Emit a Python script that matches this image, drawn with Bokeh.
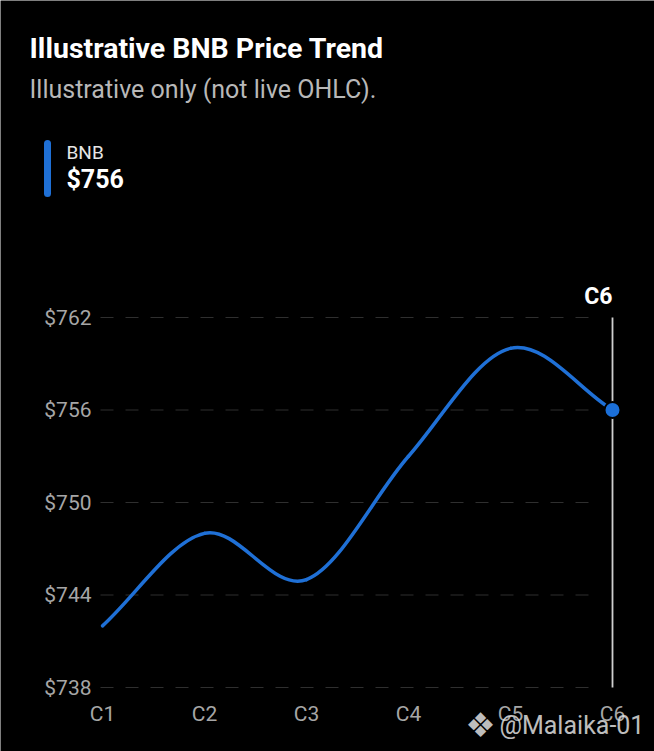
import numpy as np
from bokeh.plotting import figure
from bokeh.models import Range1d
from bokeh.core.properties import value
from bokeh.embed import file_html
from bokeh.resources import INLINE

# ---- data ----
CATEGORIES = ["C1", "C2", "C3", "C4", "C5", "C6"]
PRICES = [742, 748, 745, 753, 760, 756]
Y_TICKS = [738, 744, 750, 756, 762]
Y_TICK_LABELS = ["$738", "$744", "$750", "$756", "$762"]
TITLE = "Illustrative BNB Price Trend"
SUBTITLE = "Illustrative only (not live OHLC)."
SERIES_NAME = "BNB"
LATEST_LABEL = "$756"
WATERMARK = "@Malaika-01"

# ---- layout (pixels) ----
W, H = 654, 751
PX_PER_CAT = 102.0          # horizontal pixels per category step
PX_PER_USD = 370.0 / 24.0   # vertical pixels per dollar
TOP_TICK_PX = 317.0         # pixel row of the top tick

x_end = W / PX_PER_CAT
y_top = Y_TICKS[-1] + TOP_TICK_PX / PX_PER_USD
y_bottom = y_top - H / PX_PER_USD


def px_x(px):
    return px / PX_PER_CAT


def px_y(py):
    return y_top - py / PX_PER_USD


FONT = value("Roboto")

xs = np.arange(1, len(PRICES) + 1, dtype=float)
ys = np.array(PRICES, dtype=float)

# smooth curve: cubic Hermite (Catmull-Rom style) segments as Bezier curves
m = np.empty_like(ys)
m[1:-1] = (ys[2:] - ys[:-2]) / 2.0
m[0] = ys[1] - ys[0]
m[-1] = ys[-1] - ys[-2]
bx0, bx1 = xs[:-1], xs[1:]
by0, by1 = ys[:-1], ys[1:]
cx0, cy0 = bx0 + 1 / 3, by0 + m[:-1] / 3
cx1, cy1 = bx1 - 1 / 3, by1 - m[1:] / 3

p = figure(width=W, height=H, output_backend="svg", toolbar_location=None,
           x_range=Range1d(0, x_end), y_range=Range1d(y_bottom, y_top),
           x_axis_location=None, y_axis_location=None,
           min_border=0, outline_line_color=None)
p.background_fill_color = "black"
p.border_fill_color = "black"
p.outline_line_alpha = 0
p.outline_line_width = 0
p.grid.visible = False

# dashed horizontal gridlines at the y ticks
p.segment(x0=px_x(100), y0=Y_TICKS, x1=px_x(600), y1=Y_TICKS,
          line_color="#2f2f2f", line_width=1, line_dash="13 12")

# y tick labels
p.text(x=[px_x(91)] * len(Y_TICKS), y=Y_TICKS, text=Y_TICK_LABELS,
       text_font=FONT, text_font_size="21px", text_color="#a6a6a6",
       text_align="right", text_baseline="middle")
# x tick labels
p.text(x=xs, y=[px_y(713.5)] * len(xs), text=CATEGORIES,
       text_font=FONT, text_font_size="21px", text_color="#a6a6a6",
       text_align="center", text_baseline="middle")

# crosshair at latest point
p.segment(x0=[xs[-1]], y0=[Y_TICKS[0]], x1=[xs[-1]], y1=[Y_TICKS[-1]],
          line_color="#cfcfcf", line_width=1.8)
p.text(x=[xs[-1]], y=[Y_TICKS[-1]], text=[CATEGORIES[-1]], y_offset=-21,
       text_font=FONT, text_font_style="bold", text_font_size="23px",
       text_color="white", text_align="right", text_baseline="middle")

# the curve
p.bezier(x0=bx0, y0=by0, x1=bx1, y1=by1, cx0=cx0, cy0=cy0, cx1=cx1, cy1=cy1,
         line_color="#1f70d6", line_width=3.5, line_cap="round")
p.scatter(x=[xs[-1]], y=[ys[-1]], size=16, fill_color="#1b6fd8",
          line_color="black", line_width=2)

# header
p.text(x=[px_x(29)], y=[px_y(47.5)], text=[TITLE], text_font=FONT,
       text_font_style="bold", text_font_size="28.5px", text_color="white",
       text_baseline="middle")
p.text(x=[px_x(29)], y=[px_y(89)], text=[SUBTITLE], text_font=FONT,
       text_font_size="25px", text_color="#b8b8b8", text_baseline="middle")

# legend
p.segment(x0=[px_x(47)], y0=[px_y(143)], x1=[px_x(47)], y1=[px_y(193)],
          line_color="#1f70d6", line_width=7, line_cap="round")
p.text(x=[px_x(66)], y=[px_y(151.5)], text=[SERIES_NAME], text_font=FONT,
       text_font_size="19px", text_color="#e6e6e6", text_baseline="middle")
p.text(x=[px_x(66)], y=[px_y(179)], text=[LATEST_LABEL], text_font=FONT,
       text_font_style="bold", text_font_size="25px", text_color="white",
       text_baseline="middle")

# watermark
p.text(x=[px_x(480)], y=[px_y(724)], text=["\u2756"], text_font=value("DejaVu Sans"),
       text_font_size="34px", text_color="#e0e0e0", text_alpha=0.85,
       text_align="center", text_baseline="middle")
p.text(x=[px_x(499)], y=[px_y(725)], text=[WATERMARK], text_font=FONT,
       text_font_size="25px", text_color="#e0e0e0", text_alpha=0.85,
       text_baseline="middle")

open("out.html", "w").write(file_html(p, INLINE))
